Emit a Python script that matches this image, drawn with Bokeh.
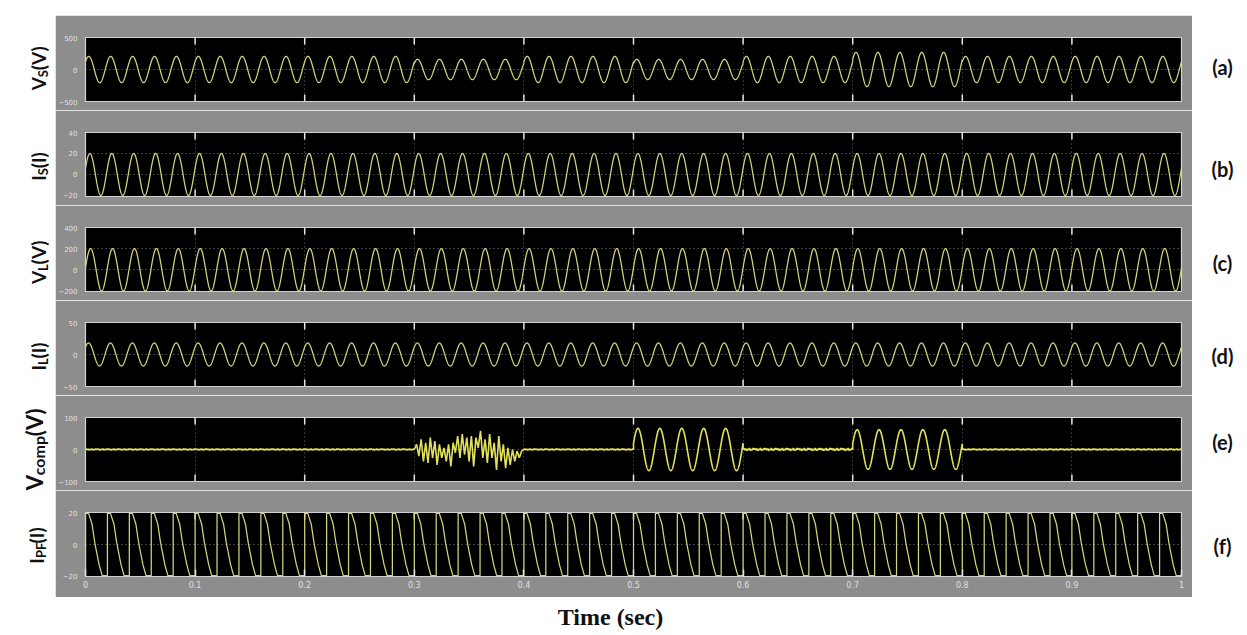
import numpy as np
from bokeh.plotting import figure
from bokeh.models import Range1d, FixedTicker, LinearAxis, Grid, Spacer
from bokeh.layouts import row, column
from bokeh.embed import file_html
from bokeh.resources import INLINE
from bokeh.core.properties import value

# ------------------------------------------------------------------ data
freq_hz = 50
segment_start = [0.0, 0.1, 0.2, 0.3, 0.4, 0.5, 0.6, 0.7, 0.8, 0.9]
segment_len = 0.1

# peak values per 0.1 s segment
vs_amp = [205, 205, 205, 160, 205, 158, 205, 268, 205, 205]
is_amp = [20, 20, 20, 20, 20, 20, 20, 20, 20, 20]
vl_amp = [200, 200, 200, 200, 200, 200, 200, 200, 200, 200]
il_amp = [18, 18, 18, 18, 18, 18, 18, 18, 18, 18]
vcomp_amp = [0, 0, 0, 0, 0, 66, 0, 62, 0, 0]
vcomp_ripple = [2.5, 2.5, 2.5, 0, 2.5, 0, 4.5, 0, 2.5, 2.5]

# phase of each wave at t = 0 (rad)
vs_phase = 0.63
is_phase = 0.31
vl_phase = 0.10
il_phase = 0.70
vcomp_phase = 0.30

# distorted compensation voltage between 0.3 s and 0.4 s (spike extremes)
vcomp_dist = [0, 16, -21, 32, -37, 21, -42, 37, -26, 26, -48, 16, -26, 5, -37,
              16, -53, 21, -10, 42, -26, 48, -16, 37, -37, 42, -53, 37, 5, 58,
              -26, 32, -42, 48, -26, 21, -64, 42, -37, 16, -58, 5, -48, 0, -37,
              -5, -26, -5, 0]
ripple_pattern = [0.0, 0.8, -0.4, 0.6, -0.9, 0.3, -0.2, 1.0, -0.7, 0.2, -0.5, 0.9]

# one cycle of the filter current (phase within cycle, value)
ipf_cycle_phase = [0.0, 0.0, 0.14, 0.30, 0.42, 0.46, 0.62, 0.76, 1.0]
ipf_cycle_value = [-20, 20, 20, 13, 1.5, -1.5, -13, -20, -20]

# axes
x_ticks = [0.0, 0.1, 0.2, 0.3, 0.4, 0.5, 0.6, 0.7, 0.8, 0.9, 1.0]
x_tick_labels = ["0", "0.1", "0.2", "0.3", "0.4", "0.5", "0.6", "0.7", "0.8", "0.9", "1"]
panel_ylim = [(-500, 500), (-21, 40), (-206, 400), (-50, 50), (-100, 100), (-20.6, 20.6)]
panel_yticks = [[-500, 0, 500], [-20, 0, 20, 40], [-200, 0, 200, 400],
                [-50, 0, 50], [-100, 0, 100], [-20, 0, 20]]
panel_ygrid = [[0], [0, 20], [0, 200], [0], [0], [0]]

left_main = ["V", "I", "V", "I", "V", "I"]
left_sub = ["S", "S", "L", "L", "comp", "PF"]
left_unit = ["(V)", "(I)", "(V)", "(I)", "(V)", "(I)"]
right_labels = ["(a)", "(b)", "(c)", "(d)", "(e)", "(f)"]
x_title = "Time (sec)"

# ------------------------------------------------------------------ waves
t = np.linspace(0.0, 1.0, 20001)
seg = np.clip(np.searchsorted(segment_start, t, side="right") - 1, 0, 9)
w = 2 * np.pi * freq_hz * t
vs = np.array(vs_amp)[seg] * np.sin(w + vs_phase)
isrc = np.array(is_amp)[seg] * np.sin(w + is_phase)
vl = np.array(vl_amp)[seg] * np.sin(w + vl_phase)
il = np.array(il_amp)[seg] * np.sin(w + il_phase)

vc_t, vc_y = [], []
for i, s in enumerate(segment_start):
    if i == 3:
        tt = np.linspace(s, s + segment_len, len(vcomp_dist))
        yy = np.array(vcomp_dist, dtype=float)
    elif vcomp_amp[i] > 0:
        tt = np.linspace(s, s + segment_len, 1001)
        yy = vcomp_amp[i] * np.sin(2 * np.pi * freq_hz * tt + vcomp_phase)
    else:
        tt = np.linspace(s, s + segment_len, 121)
        yy = vcomp_ripple[i] * np.resize(np.array(ripple_pattern), tt.size)
    vc_t.append(tt)
    vc_y.append(yy)
vc_t = np.concatenate(vc_t)
vc_y = np.concatenate(vc_y)

ipf_t, ipf_y = [], []
for k in range(int(freq_hz * 1.0)):
    for ph, v in zip(ipf_cycle_phase, ipf_cycle_value):
        ipf_t.append((k + ph) / freq_hz)
        ipf_y.append(v)

series = [(t, vs), (t, isrc), (t, vl), (t, il), (vc_t, vc_y), (ipf_t, ipf_y)]

# ------------------------------------------------------------------ style
GRAY = "#8d8d8d"
WAVE = "#d4d47e"
VCOMP = "#e2e25a"
TICKTXT = "#e0e0e0"
TICKLINE = "#e4e4e4"
FRAME_H = 64


def make_panel(k):
    last = k == 5
    height = 107 if last else 95
    y0, y1 = panel_ylim[k]
    p = figure(width=1137, height=height, x_range=Range1d(0, 1),
               y_range=Range1d(y0, y1), output_backend="svg",
               toolbar_location=None, min_border_left=27, min_border_right=11,
               min_border_top=22, min_border_bottom=21 if last else 9,
               x_axis_location=None, y_axis_location=None)
    p.grid.visible = False
    p.background_fill_color = "black"
    p.border_fill_color = GRAY
    p.outline_line_color = "#d2d2d2"
    p.outline_line_width = 1.2

    ya = LinearAxis(ticker=FixedTicker(ticks=panel_yticks[k]))
    ya.axis_line_color = None
    ya.major_tick_line_color = None
    ya.minor_tick_line_color = None
    ya.major_label_text_font_size = "7px"
    ya.major_label_text_color = TICKTXT
    ya.major_label_text_font = "DejaVu Sans"
    ya.major_label_standoff = 2
    p.add_layout(ya, "left")

    if last:
        xa = LinearAxis(ticker=FixedTicker(ticks=x_ticks))
        xa.axis_line_color = None
        xa.minor_tick_line_color = None
        xa.major_tick_line_color = TICKLINE
        xa.major_tick_line_width = 1.5
        xa.major_tick_in = 7
        xa.major_tick_out = 0
        xa.major_label_overrides = {tk: lb for tk, lb in zip(x_ticks, x_tick_labels)}
        xa.major_label_text_font_size = "8px"
        xa.major_label_text_color = TICKTXT
        xa.major_label_text_font = "DejaVu Sans"
        xa.major_label_standoff = 4
        p.add_layout(xa, "below")

    g1 = Grid(dimension=0, ticker=FixedTicker(ticks=x_ticks[1:-1]),
              grid_line_color="#6c6c6c", grid_line_dash="1 3", grid_line_alpha=0.9)
    g2 = Grid(dimension=1, ticker=FixedTicker(ticks=panel_ygrid[k]),
              grid_line_color="#9a9a9a", grid_line_dash="1 3", grid_line_alpha=0.85)
    p.add_layout(g1)
    p.add_layout(g2)

    # short tick marks inside the frame at top and bottom (at the x ticks)
    inner = x_ticks[1:-1]
    dy = (y1 - y0) * 7.0 / FRAME_H
    p.segment(x0=inner, x1=inner, y0=[y1] * len(inner), y1=[y1 - dy] * len(inner),
              line_color=TICKLINE, line_width=1.5)
    if not last:
        p.segment(x0=inner, x1=inner, y0=[y0] * len(inner), y1=[y0 + dy] * len(inner),
                  line_color=TICKLINE, line_width=1.5)

    xs, ys = series[k]
    p.line(xs, ys, line_color=VCOMP if k == 4 else WAVE,
           line_width=1.6 if k == 4 else 1.25)
    return p


panels = [make_panel(k) for k in range(6)]

# ------------------------------------------------------------------ labels
CHAR_EM = {"V": 0.68, "I": 0.29, "S": 0.53, "L": 0.50, "P": 0.60, "F": 0.53,
           "c": 0.46, "o": 0.56, "m": 0.85, "p": 0.57, "(": 0.33, ")": 0.33}


def text_w(s, size):
    return sum(CHAR_EM.get(ch, 0.55) for ch in s) * size


SIDE_H = 597
left_center_y = [67, 165, 261, 355, 448, 544]   # page pixels
left_main_size = [19, 19, 19, 19, 22, 19]
left_sub_size = [13, 13, 13, 13, 16, 13]
left_base_x = [38, 38, 38, 38, 34, 36]


def blank_fig(w, h):
    f = figure(width=w, height=h, x_range=Range1d(0, w), y_range=Range1d(0, h),
               output_backend="svg", toolbar_location=None, min_border=0,
               x_axis_location=None, y_axis_location=None)
    f.grid.visible = False
    f.outline_line_color = None
    f.background_fill_color = "white"
    f.border_fill_color = "white"
    return f


left = blank_fig(55, SIDE_H)
for k in range(6):
    ms, ss = left_main_size[k], left_sub_size[k]
    wm = text_w(left_main[k], ms)
    ws = text_w(left_sub[k], ss)
    wu = text_w(left_unit[k], ms)
    total = wm + ws + wu
    yb = (SIDE_H - left_center_y[k]) - total / 2
    bx = left_base_x[k]
    for txt, x, y, size in ((left_main[k], bx, yb, ms),
                            (left_sub[k], bx + 4, yb + wm, ss),
                            (left_unit[k], bx, yb + wm + ws, ms)):
        left.text(x=[x], y=[y], text=[txt], angle=np.pi / 2, text_align="left",
                  text_baseline="alphabetic", text_font=value("Lato"),
                  text_font_style="bold", text_font_size=value(f"{size}px"),
                  text_color="#111111")

right_center_y = [66, 168, 262, 355, 441, 545]
right = blank_fig(55, SIDE_H)
right.text(x=[30] * 6, y=[SIDE_H - cy for cy in right_center_y], text=right_labels,
           text_align="center", text_baseline="middle", text_font=value("Lato"),
           text_font_style="bold", text_font_size=value("20px"), text_color="#111111")

bottom = blank_fig(1247, 38)
bottom.text(x=[610], y=[19], text=[x_title], text_align="center",
            text_baseline="middle", text_font=value("Liberation Serif"),
            text_font_style="bold", text_font_size=value("24px"), text_color="#111111")

middle = column([Spacer(width=1137, height=15)] + panels, spacing=0)
layout = column([row([left, middle, right], spacing=0), bottom], spacing=0)

open("out.html", "w").write(file_html(layout, INLINE))
